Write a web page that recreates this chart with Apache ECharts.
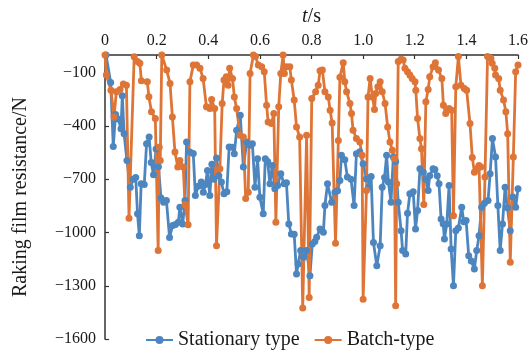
<!DOCTYPE html>
<html>
<head>
<meta charset="utf-8">
<script src="https://cdn.jsdelivr.net/npm/echarts@6/dist/echarts.min.js"></script>
<style>html,body{margin:0;padding:0;background:#fff;}#c{width:531px;height:351px;}</style>
</head>
<body>
<div id="c"></div>
<script>
var xTicks = [0, 0.2, 0.4, 0.6, 0.8, 1.0, 1.2, 1.4, 1.6];
var yTicks = [-1600, -1300, -1000, -700, -400, -100];
var seriesNames = ['Stationary type', 'Batch-type'];

var stationary = [[0.004,0],[0.022,-155],[0.032,-515],[0.041,-335],[0.051,-360],[0.062,-415],[0.067,-230],[0.074,-443],[0.085,-594],[0.098,-745],[0.109,-700],[0.119,-690],[0.126,-895],[0.133,-1018],[0.140,-726],[0.152,-730],[0.161,-500],[0.171,-462],[0.179,-605],[0.188,-675],[0.198,-530],[0.207,-630],[0.217,-805],[0.227,-830],[0.238,-820],[0.250,-1028],[0.262,-961],[0.273,-955],[0.284,-942],[0.290,-858],[0.301,-952],[0.310,-820],[0.316,-490],[0.329,-547],[0.342,-555],[0.350,-792],[0.361,-740],[0.373,-716],[0.381,-773],[0.389,-730],[0.397,-650],[0.406,-792],[0.414,-615],[0.422,-700],[0.432,-580],[0.441,-680],[0.451,-716],[0.461,-782],[0.472,-770],[0.481,-518],[0.493,-520],[0.501,-556],[0.510,-424],[0.524,-339],[0.536,-631],[0.549,-490],[0.562,-509],[0.571,-500],[0.581,-745],[0.591,-584],[0.600,-801],[0.613,-895],[0.621,-584],[0.630,-600],[0.639,-726],[0.648,-622],[0.658,-754],[0.669,-735],[0.681,-669],[0.694,-726],[0.703,-720],[0.712,-952],[0.722,-1008],[0.733,-1010],[0.742,-1234],[0.748,-1178],[0.758,-1102],[0.769,-1140],[0.781,-1102],[0.794,-1244],[0.803,-1065],[0.813,-1050],[0.820,-1027],[0.833,-980],[0.846,-999],[0.852,-848],[0.862,-726],[0.878,-829],[0.891,-773],[0.901,-765],[0.910,-707],[0.916,-565],[0.929,-590],[0.939,-688],[0.953,-700],[0.965,-848],[0.974,-556],[0.987,-545],[1.000,-612],[1.013,-698],[1.022,-745],[1.031,-684],[1.040,-1056],[1.053,-1187],[1.066,-1074],[1.074,-745],[1.083,-690],[1.091,-565],[1.098,-716],[1.108,-829],[1.117,-575],[1.126,-600],[1.136,-829],[1.147,-990],[1.153,-1102],[1.165,-1121],[1.172,-892],[1.181,-782],[1.194,-770],[1.203,-980],[1.211,-876],[1.220,-641],[1.233,-660],[1.242,-698],[1.252,-763],[1.258,-680],[1.271,-641],[1.278,-645],[1.287,-680],[1.294,-726],[1.302,-924],[1.310,-950],[1.315,-1036],[1.324,-952],[1.333,-735],[1.341,-1093],[1.350,-1300],[1.359,-990],[1.369,-975],[1.382,-858],[1.390,-940],[1.399,-933],[1.409,-1131],[1.419,-1160],[1.431,-1206],[1.440,-1102],[1.449,-1018],[1.459,-858],[1.470,-835],[1.484,-820],[1.492,-669],[1.501,-471],[1.513,-575],[1.522,-848],[1.531,-1102],[1.540,-952],[1.550,-745],[1.559,-860],[1.570,-990],[1.580,-800],[1.591,-858],[1.600,-754]];

var batch = [[0,0],[0.005,-113],[0.023,-198],[0.035,-349],[0.044,-207],[0.058,-194],[0.071,-164],[0.083,-170],[0.093,-920],[0.113,-10],[0.126,-37],[0.135,-47],[0.141,-145],[0.164,-150],[0.170,-235],[0.180,-320],[0.195,-358],[0.206,-1102],[0.210,-520],[0.214,-594],[0.220,0],[0.239,-85],[0.252,-160],[0.261,-349],[0.271,-547],[0.282,-631],[0.290,-594],[0.303,-631],[0.310,-842],[0.322,-956],[0.329,-150],[0.342,-57],[0.355,-57],[0.368,-75],[0.380,-132],[0.393,-292],[0.406,-302],[0.413,-251],[0.425,-302],[0.432,-1074],[0.445,-641],[0.454,-273],[0.461,-141],[0.470,-123],[0.477,-170],[0.483,-75],[0.494,-132],[0.501,-236],[0.510,-302],[0.523,-452],[0.536,-462],[0.545,-809],[0.555,-773],[0.562,-104],[0.575,0],[0.583,-9],[0.594,-57],[0.607,-66],[0.617,-94],[0.626,-283],[0.632,-377],[0.645,-386],[0.654,-330],[0.662,-942],[0.673,-292],[0.681,-104],[0.690,0],[0.695,-104],[0.703,-66],[0.716,-66],[0.722,-141],[0.733,-254],[0.742,-405],[0.754,-462],[0.766,-1425],[0.781,-452],[0.791,-1366],[0.801,-245],[0.816,-207],[0.826,-170],[0.833,-89],[0.842,-85],[0.852,-207],[0.865,-236],[0.872,-311],[0.880,-383],[0.893,-1061],[0.904,-481],[0.910,-126],[0.923,-43],[0.929,-150],[0.936,-207],[0.949,-273],[0.955,-330],[0.961,-424],[0.974,-471],[0.987,-490],[0.996,-565],[1.000,-1376],[1.013,-763],[1.019,-236],[1.027,-132],[1.036,-236],[1.044,-307],[1.049,-217],[1.057,-179],[1.066,-150],[1.074,-207],[1.085,-273],[1.095,-405],[1.104,-490],[1.113,-537],[1.121,-584],[1.126,-1413],[1.130,-725],[1.136,-37],[1.147,-24],[1.155,-28],[1.162,-75],[1.172,-94],[1.181,-113],[1.190,-132],[1.201,-150],[1.204,-198],[1.211,-358],[1.220,-471],[1.226,-528],[1.235,-842],[1.243,-264],[1.252,-194],[1.258,-123],[1.271,-66],[1.280,-43],[1.292,-85],[1.305,-132],[1.311,-283],[1.320,-330],[1.333,-302],[1.343,-311],[1.350,-905],[1.359,-179],[1.369,-9],[1.379,-170],[1.392,-189],[1.401,-198],[1.414,-386],[1.423,-578],[1.431,-660],[1.440,-641],[1.449,-622],[1.456,-631],[1.462,-1300],[1.472,-688],[1.482,-9],[1.495,-19],[1.500,-47],[1.510,-75],[1.513,-113],[1.525,-132],[1.531,-198],[1.544,-254],[1.553,-320],[1.560,-443],[1.570,-1168],[1.582,-575],[1.591,-94],[1.600,-57]];

var colors = ['#4D86BF', '#DE7537'];
var FONT = 'Liberation Serif, Times New Roman, serif';

var chart = echarts.init(document.getElementById('c'), null, {renderer: 'canvas'});
chart.setOption({
  animation: false,
  backgroundColor: '#fff',
  color: colors,
  grid: {left: 105, right: 11, top: 55, bottom: 12, containLabel: false},
  legend: {
    data: seriesNames,
    left: 140, top: 325,
    itemWidth: 27, itemHeight: 10, itemGap: 14,
    textStyle: {fontFamily: FONT, fontSize: 20, color: '#1a1a1a'}
  },
  xAxis: {
    type: 'value', position: 'top',
    min: xTicks[0], max: xTicks[xTicks.length - 1], interval: 0.2,
    name: '{i|t}/s', nameLocation: 'middle', nameGap: 28,
    nameTextStyle: {fontFamily: FONT, fontSize: 20, color: '#1a1a1a', rich: {i: {fontFamily: FONT, fontSize: 20, fontStyle: 'italic', color: '#1a1a1a'}}},
    axisLine: {show: true, lineStyle: {color: '#333', width: 1.5}},
    axisTick: {show: true, inside: true, length: 4, lineStyle: {color: '#333', width: 1.2}},
    axisLabel: {fontFamily: FONT, fontSize: 16, color: '#1a1a1a', margin: 6,
      formatter: function (v) { return v === 0 ? '0' : v.toFixed(1); }},
    splitLine: {show: false}
  },
  yAxis: {
    type: 'value',
    min: yTicks[0], max: 0, interval: 300,
    name: 'Raking film resistance/N', nameLocation: 'middle', nameGap: 74, nameRotate: 90,
    nameTextStyle: {fontFamily: FONT, fontSize: 20, color: '#1a1a1a'},
    axisLine: {show: true, lineStyle: {color: '#333', width: 1.5}},
    axisTick: {show: true, inside: true, length: 4, lineStyle: {color: '#333', width: 1.2}},
    axisLabel: {fontFamily: FONT, fontSize: 16, color: '#1a1a1a', margin: 9, showMaxLabel: false,
      formatter: function (v) { return v === 0 ? '' : String(v).replace('-', '\u2212'); }},
    splitLine: {show: false}
  },
  series: [
    {name: seriesNames[0], type: 'line', data: stationary, symbol: 'circle', symbolSize: 7,
     lineStyle: {width: 2.8, color: colors[0]}, itemStyle: {color: colors[0]}},
    {name: seriesNames[1], type: 'line', data: batch, symbol: 'circle', symbolSize: 7,
     lineStyle: {width: 2.8, color: colors[1]}, itemStyle: {color: colors[1]}}
  ]
});
</script>
</body>
</html>
